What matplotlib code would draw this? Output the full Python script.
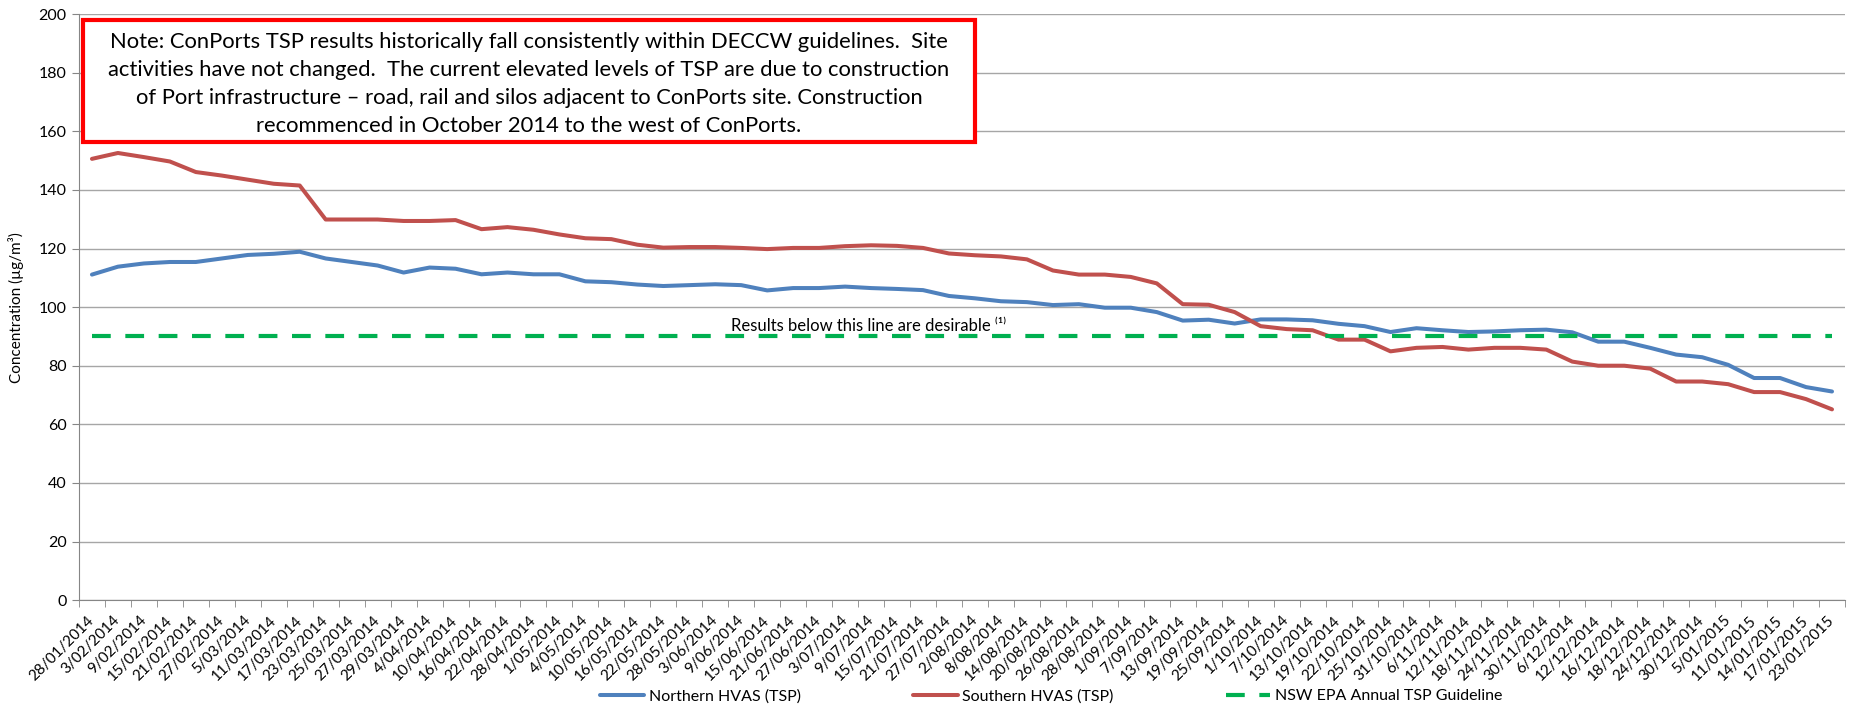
import matplotlib
matplotlib.use("Agg")
import matplotlib.pyplot as plt
from matplotlib.patches import Rectangle

plt.rcParams['font.family'] = ['Lato', 'DejaVu Sans']

dates = ["28/01/2014", "3/02/2014", "9/02/2014", "15/02/2014", "21/02/2014", "27/02/2014",
         "5/03/2014", "11/03/2014", "17/03/2014", "23/03/2014", "25/03/2014", "27/03/2014",
         "29/03/2014", "4/04/2014", "10/04/2014", "16/04/2014", "22/04/2014", "28/04/2014",
         "1/05/2014", "4/05/2014", "10/05/2014", "16/05/2014", "22/05/2014", "28/05/2014",
         "3/06/2014", "9/06/2014", "15/06/2014", "21/06/2014", "27/06/2014", "3/07/2014",
         "9/07/2014", "15/07/2014", "21/07/2014", "27/07/2014", "2/08/2014", "8/08/2014",
         "14/08/2014", "20/08/2014", "26/08/2014", "28/08/2014", "1/09/2014", "7/09/2014",
         "13/09/2014", "19/09/2014", "25/09/2014", "1/10/2014", "7/10/2014", "13/10/2014",
         "19/10/2014", "22/10/2014", "25/10/2014", "31/10/2014", "6/11/2014", "12/11/2014",
         "18/11/2014", "24/11/2014", "30/11/2014", "6/12/2014", "12/12/2014", "16/12/2014",
         "18/12/2014", "24/12/2014", "30/12/2014", "5/01/2015", "11/01/2015", "14/01/2015",
         "17/01/2015", "23/01/2015"]

northern = [111.1, 113.8, 114.9, 115.4, 115.4, 116.6, 117.8, 118.2, 118.9, 116.6,
            115.4, 114.2, 111.8, 113.5, 113.1, 111.2, 111.8, 111.2, 111.2, 108.8,
            108.5, 107.7, 107.2, 107.5, 107.8, 107.5, 105.7, 106.5, 106.5, 107.0,
            106.5, 106.2, 105.8, 103.8, 103.0, 102.0, 101.7, 100.7, 101.0, 99.8,
            99.8, 98.3, 95.4, 95.7, 94.4, 95.8, 95.8, 95.5, 94.3, 93.5,
            91.5, 92.8, 92.1, 91.5, 91.7, 92.1, 92.3, 91.4, 88.2, 88.2,
            86.1, 83.8, 82.9, 80.3, 75.8, 75.8, 72.7, 71.2]

southern = [150.6, 152.6, 151.2, 149.7, 146.1, 144.9, 143.5, 142.1, 141.5, 129.9,
            129.9, 129.9, 129.4, 129.4, 129.7, 126.6, 127.3, 126.4, 124.8, 123.5,
            123.2, 121.3, 120.3, 120.5, 120.5, 120.2, 119.8, 120.2, 120.2, 120.8,
            121.1, 120.9, 120.2, 118.3, 117.7, 117.3, 116.3, 112.5, 111.1, 111.1,
            110.3, 108.1, 101.0, 100.8, 98.3, 93.5, 92.5, 92.1, 88.9, 88.9,
            84.9, 86.1, 86.4, 85.5, 86.1, 86.1, 85.5, 81.4, 80.0, 80.0,
            79.0, 74.6, 74.6, 73.7, 71.0, 71.0, 68.6, 65.1]

guideline = [90] * len(dates)

note = ("Note: ConPorts TSP results historically fall consistently within DECCW guidelines.  Site\n"
        "activities have not changed.  The current elevated levels of TSP are due to construction\n"
        "of Port infrastructure \u2013 road, rail and silos adjacent to ConPorts site. Construction\n"
        "recommenced in October 2014 to the west of ConPorts.")


def plot_tsp():
    fig = plt.figure(figsize=(18.58, 7.06), dpi=100)
    ax = fig.add_axes([0.0425, 0.150, 0.9505, 0.830])

    x = range(len(dates))
    l1, = ax.plot(x, northern, color='#4F81BD', lw=2.9, solid_capstyle='round',
                  label='Northern HVAS (TSP)')
    l2, = ax.plot(x, southern, color='#C0504D', lw=2.9, solid_capstyle='round',
                  label='Southern HVAS (TSP)')
    l3, = ax.plot(x, guideline, color='#00B050', lw=3, dashes=(4.5, 3.5),
                  label='NSW EPA Annual TSP Guideline')

    ax.set_xlim(-0.5, len(dates) - 0.5)
    ax.set_ylim(0, 200)
    ax.set_yticks(range(0, 201, 20))
    ax.tick_params(axis='y', labelsize=11.5, length=5, color='#868686', pad=4)

    # labels sit on the categories, tick marks on the boundaries (Excel style)
    ax.set_xticks(list(x))
    ax.set_xticklabels(dates, rotation=45, ha='right', va='center',
                       rotation_mode='anchor', fontsize=11)
    ax.tick_params(axis='x', which='major', length=0, pad=13)
    ax.set_xticks([i - 0.5 for i in range(len(dates) + 1)], minor=True)
    ax.tick_params(axis='x', which='minor', length=5, color='#868686')

    ax.yaxis.grid(True, color='#A6A6A6', lw=1)
    ax.set_axisbelow(True)
    for s in ['top', 'right']:
        ax.spines[s].set_visible(False)
    for s in ['left', 'bottom']:
        ax.spines[s].set_color('#868686')

    ax.set_ylabel('Concentration (\u00b5g/m\u00b3)', fontsize=11, labelpad=10)

    ax.text(29.9, 92, 'Results below this line are desirable \u207d\u00b9\u207e',
            ha='center', va='baseline', fontsize=12)

    # note box
    fig.patches.append(Rectangle((0.0447, 0.7989), 0.4801, 0.1728, transform=fig.transFigure,
                                 facecolor='white', edgecolor='#FF0000', lw=3, zorder=5))
    fig.text(0.2847, 0.881, note, ha='center', va='center', fontsize=15.8,
             linespacing=1.5, zorder=6)

    fig.legend(handles=[l1, l2, l3], loc='center', bbox_to_anchor=(0.5657, 0.014),
               ncol=3, frameon=False, fontsize=11.5, handlelength=2.8,
               columnspacing=7.0, handletextpad=0.3)
    return fig


if __name__ == "__main__":
    fig = plot_tsp()
    fig.savefig("out.png", dpi=100)
